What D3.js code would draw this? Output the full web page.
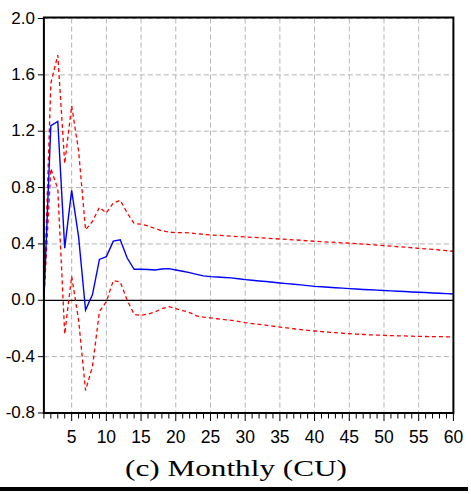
<!DOCTYPE html>
<html>
<head>
<meta charset="utf-8">
<script src="https://cdn.jsdelivr.net/npm/d3@7"></script>
<style>
    body { margin: 0; background: #fff; }
    svg { display: block; }
</style>
</head>
<body>
<div id="charts"></div>
<script>
// periods 1..60
const periods = d3.range(1, 61);

const response = [0, 1.24, 1.27, 0.37, 0.78, 0.45, -0.07, 0.04, 0.29, 0.31,
    0.42, 0.43, 0.30, 0.22, 0.22, 0.218, 0.215, 0.222, 0.225, 0.215,
    0.206, 0.196, 0.184, 0.173, 0.168, 0.165, 0.162, 0.159, 0.153, 0.147,
    0.142, 0.137, 0.133, 0.128, 0.123, 0.118, 0.114, 0.109, 0.104, 0.099,
    0.096, 0.093, 0.089, 0.086, 0.083, 0.080, 0.077, 0.075, 0.072, 0.069,
    0.067, 0.064, 0.062, 0.059, 0.057, 0.055, 0.052, 0.050, 0.047, 0.045];

const upper = [0, 1.54, 1.74, 0.97, 1.38, 1.06, 0.50, 0.56, 0.66, 0.62,
    0.69, 0.71, 0.62, 0.545, 0.54, 0.528, 0.51, 0.493, 0.484, 0.48,
    0.48, 0.479, 0.473, 0.468, 0.464, 0.461, 0.458, 0.455, 0.452, 0.45,
    0.447, 0.444, 0.441, 0.438, 0.435, 0.432, 0.429, 0.426, 0.422, 0.419,
    0.416, 0.413, 0.411, 0.408, 0.405, 0.402, 0.398, 0.395, 0.391, 0.388,
    0.384, 0.380, 0.377, 0.373, 0.369, 0.365, 0.361, 0.357, 0.352, 0.348];

const lower = [0, 0.935, 0.79, -0.24, 0.17, -0.14, -0.64, -0.47, -0.08, -0.01,
    0.14, 0.13, 0.0, -0.10, -0.107, -0.098, -0.083, -0.06, -0.045, -0.059,
    -0.073, -0.087, -0.11, -0.12, -0.125, -0.131, -0.137, -0.142, -0.15, -0.159,
    -0.165, -0.171, -0.177, -0.184, -0.19, -0.196, -0.202, -0.208, -0.213, -0.218,
    -0.222, -0.226, -0.23, -0.234, -0.237, -0.24, -0.243, -0.245, -0.247, -0.249,
    -0.251, -0.252, -0.253, -0.255, -0.256, -0.257, -0.258, -0.258, -0.259, -0.26];

const xTicks = [5, 10, 15, 20, 25, 30, 35, 40, 45, 50, 55, 60];
const yTicks = [-0.8, -0.4, 0.0, 0.4, 0.8, 1.2, 1.6, 2.0];
const caption = "(c) Monthly (CU)";

let plotLeft = 43.9, plotRight = 453.4, plotTop = 18.5, plotBottom = 413;

let x = d3.scaleLinear([1, 60], [plotLeft, plotRight]);
let y = d3.scaleLinear([-0.8, 2.0], [plotBottom, plotTop]);

// eviews style labels use a plain hyphen for negatives
let fmt = d => d3.format(".1f")(d).replace("\u2212", "-");

let svg = d3.select('#charts')
    .append("svg")
    .attr("width", 471)
    .attr("height", 494);

// grid
svg.append("g")
    .selectAll("line")
    .data(xTicks.filter(d => d < 60))
    .join("line")
    .attr("x1", d => x(d)).attr("x2", d => x(d))
    .attr("y1", plotTop).attr("y2", plotBottom)
    .attr("stroke", "#b4b4b4")
    .attr("stroke-width", 1)
    .attr("stroke-dasharray", "5,3");

svg.append("g")
    .selectAll("line")
    .data(yTicks.filter(d => d !== 0 && d > -0.8))
    .join("line")
    .attr("x1", plotLeft).attr("x2", plotRight)
    .attr("y1", d => y(d)).attr("y2", d => y(d))
    .attr("stroke", "#b4b4b4")
    .attr("stroke-width", 1)
    .attr("stroke-dasharray", "5,3");

// zero line
svg.append("line")
    .attr("x1", plotLeft).attr("x2", plotRight)
    .attr("y1", y(0)).attr("y2", y(0))
    .attr("stroke", "#000")
    .attr("stroke-width", 1.3);

let line = d3.line()
    .x((d, i) => x(periods[i]))
    .y(d => y(d));

svg.append("path")
    .datum(upper)
    .attr("fill", "none")
    .attr("stroke", "#ff0000")
    .attr("stroke-width", 1.3)
    .attr("stroke-dasharray", "4,3")
    .attr("d", line);

svg.append("path")
    .datum(lower)
    .attr("fill", "none")
    .attr("stroke", "#ff0000")
    .attr("stroke-width", 1.3)
    .attr("stroke-dasharray", "4,3")
    .attr("d", line);

svg.append("path")
    .datum(response)
    .attr("fill", "none")
    .attr("stroke", "#0000ff")
    .attr("stroke-width", 1.4)
    .attr("d", line);

// frame
svg.append("rect")
    .attr("x", plotLeft).attr("y", plotTop - 1)
    .attr("width", plotRight - plotLeft).attr("height", plotBottom - plotTop + 1)
    .attr("fill", "none")
    .attr("stroke", "#000")
    .attr("stroke-width", 2);

// x ticks
svg.append("g")
    .selectAll("line")
    .data(periods)
    .join("line")
    .attr("x1", d => x(d)).attr("x2", d => x(d))
    .attr("y1", plotBottom)
    .attr("y2", d => plotBottom + (d % 5 === 0 ? 8 : 5.5))
    .attr("stroke", "#000")
    .attr("stroke-width", 1);

svg.append("g")
    .selectAll("text")
    .data(xTicks)
    .join("text")
    .attr("x", d => x(d))
    .attr("y", 443)
    .attr("text-anchor", "middle")
    .attr("font-family", "Liberation Sans, Arial, sans-serif")
    .attr("font-size", 17.5)
    .text(d => d);

// y ticks
svg.append("g")
    .selectAll("line")
    .data(yTicks)
    .join("line")
    .attr("x1", plotLeft - 6).attr("x2", plotLeft)
    .attr("y1", d => y(d)).attr("y2", d => y(d))
    .attr("stroke", "#000")
    .attr("stroke-width", 1);

svg.append("g")
    .selectAll("text")
    .data(yTicks)
    .join("text")
    .attr("x", 35)
    .attr("y", d => y(d) + 5)
    .attr("text-anchor", "end")
    .attr("font-family", "Liberation Sans, Arial, sans-serif")
    .attr("font-size", 17)
    .text(fmt);

// caption
svg.append("text")
    .attr("x", 125)
    .attr("y", 476)
    .attr("textLength", 222)
    .attr("lengthAdjust", "spacingAndGlyphs")
    .attr("font-family", "Liberation Serif, serif")
    .attr("font-size", 23)
    .text(caption);

svg.append("rect")
    .attr("x", 0).attr("y", 487)
    .attr("width", 468).attr("height", 4)
    .attr("fill", "#000");
</script>
</body>
</html>
